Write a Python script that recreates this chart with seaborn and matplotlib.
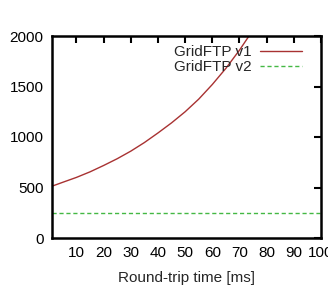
import pandas as pd
import matplotlib
matplotlib.use("Agg")
import matplotlib.pyplot as plt
import seaborn as sns

rtt_v1 = [1, 5, 10, 15, 20, 25, 30, 35, 40, 45, 50, 55, 60, 65, 70, 75]
time_v1 = [513, 552, 600, 655, 718, 785, 860, 945, 1040, 1140, 1250, 1375, 1520, 1680, 1860, 2060]
rtt_v2 = [1, 100]
time_v2 = [245, 245]

df = pd.concat([
    pd.DataFrame({"rtt": rtt_v1, "time": time_v1, "series": "GridFTP v1"}),
    pd.DataFrame({"rtt": rtt_v2, "time": time_v2, "series": "GridFTP v2"}),
])

sns.set_style("white")
plt.rcParams["font.family"] = ["Liberation Sans", "DejaVu Sans"]

fig = plt.figure(figsize=(3.28, 2.87), dpi=100)
ax = fig.add_axes([52 / 328, 49 / 287, 269 / 328, 202 / 287])

sns.lineplot(data=df, x="rtt", y="time", hue="series", style="series",
             palette=["#a83232", "#44b844"], dashes=[(None, None), (3, 2)],
             linewidth=1, ax=ax)

ax.set_xlim(1, 100)
ax.set_ylim(0, 2000)
ax.set_xticks(range(10, 101, 10))
ax.set_yticks(range(0, 2001, 500))
ax.tick_params(direction="in", length=5, width=1.5, top=True, right=True,
               labelsize=11, pad=6, color="black", labelcolor="black")
for s in ax.spines.values():
    s.set_linewidth(1.8)
    s.set_color("black")
ax.set_xlabel("Round-trip time [ms]", fontsize=11, labelpad=8)
ax.set_ylabel("")

leg = ax.legend(loc="upper right", frameon=False, markerfirst=False,
                fontsize=11, handlelength=2.7, handletextpad=0.6,
                labelspacing=0.05, borderaxespad=0.2,
                bbox_to_anchor=(0.962, 1.0))

fig.savefig("out.png", dpi=100)
